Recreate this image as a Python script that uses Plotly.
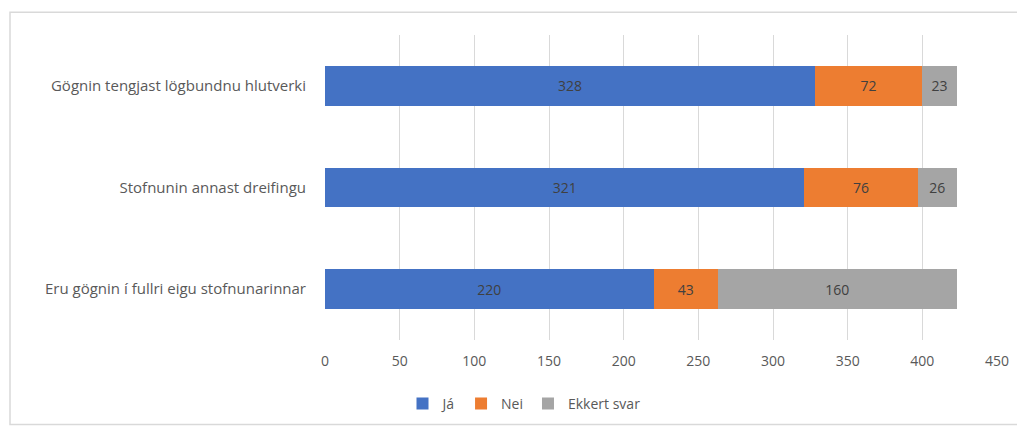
import plotly.graph_objects as go

categories = ["Eru gögnin í fullri eigu stofnunarinnar",
              "Stofnunin annast dreifingu",
              "Gögnin tengjast lögbundnu hlutverki"]
ja = [220, 321, 328]
nei = [43, 76, 72]
ekkert = [160, 26, 23]
series_names = ["Já", "Nei", "Ekkert svar"]
colors = ["#4472C4", "#ED7D31", "#A5A5A5"]
tick_vals = [0, 50, 100, 150, 200, 250, 300, 350, 400, 450]

FONT = "Open Sans, Lato, sans-serif"

fig = go.Figure()
for name, vals, col in zip(series_names, [ja, nei, ekkert], colors):
    fig.add_trace(go.Bar(
        y=categories, x=vals, name=name, orientation="h",
        marker=dict(color=col, line=dict(width=0)),
        text=[str(v) for v in vals], textposition="inside",
        insidetextanchor="middle",
        textfont=dict(color="#404040", size=14, family=FONT),
        width=0.39,
    ))

# page body adds an 8px offset; figure coordinates = screen - 8
OFF = 8
W, H = 1025 - OFF, 432 - OFF
L = 325 - OFF
T = 35 - OFF
R = W - (997 - OFF)
B = H - (345 - OFF)
pw, ph = W - L - R, H - T - B


def px_x(sx):
    return (sx - OFF - L) / pw


def px_y(sy):
    return (H - B - (sy - OFF)) / ph


fig.update_layout(
    barmode="stack",
    width=W, height=H,
    margin=dict(l=L, r=R, t=T, b=B),
    paper_bgcolor="white", plot_bgcolor="white",
    font=dict(family=FONT, size=14, color="#595959"),
    showlegend=True,
    legend=dict(orientation="h", x=px_x(524), xanchor="center",
                y=px_y(410), yanchor="middle",
                font=dict(size=14, color="#595959", family=FONT),
                itemwidth=30, traceorder="normal"),
    xaxis=dict(range=[0, 450], tickvals=tick_vals, showgrid=True,
               gridcolor="#D9D9D9", gridwidth=1, zeroline=False,
               showline=False, ticks="", ticklabelstandoff=11,
               tickfont=dict(size=14, color="#595959")),
    yaxis=dict(range=[-0.5, 2.5], showgrid=False, zeroline=False,
               showline=False, ticks="", ticklabelstandoff=18,
               tickfont=dict(size=15, color="#595959")),
    shapes=[dict(type="rect", xref="paper", yref="paper",
                 x0=px_x(10), x1=px_x(1040),
                 y0=px_y(431), y1=px_y(12),
                 line=dict(color="#D9D9D9", width=1.5), layer="below")],
)

fig.write_html("out.html")
